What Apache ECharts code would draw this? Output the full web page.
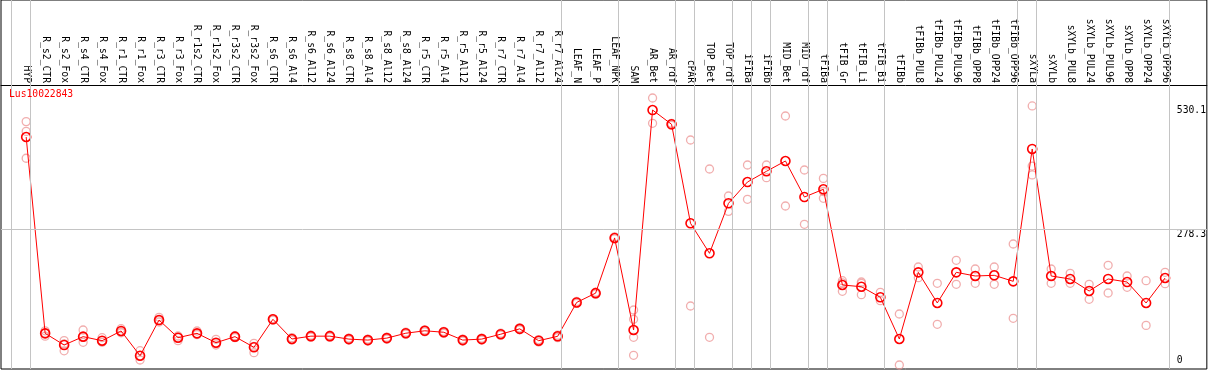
<!DOCTYPE html>
<html>
<head>
<meta charset="utf-8">
<script src="https://cdn.jsdelivr.net/npm/echarts@6/dist/echarts.min.js"></script>
<style>
html,body{margin:0;padding:0;background:#fff;}
#chart{width:1209px;height:370px;}
</style>
</head>
<body>
<div id="chart"></div>
<script>
const geneName = 'Lus10022843';
const categories = ['HYP','R_s2_CTR','R_s2_Fox','R_s4_CTR','R_s4_Fox','R_r1_CTR','R_r1_Fox','R_r3_CTR','R_r3_Fox','R_r1s2_CTR','R_r1s2_Fox','R_r3s2_CTR','R_r3s2_Fox','R_s6_CTR','R_s6_Al4','R_s6_Al12','R_s6_Al24','R_s8_CTR','R_s8_Al4','R_s8_Al12','R_s8_Al24','R_r5_CTR','R_r5_Al4','R_r5_Al12','R_r5_Al24','R_r7_CTR','R_r7_Al4','R_r7_Al12','R_r7_Al24','LEAF_N','LEAF_P','LEAF_NPK','SAM','AR_Bet','AR_rdf','cPAR','TOP_Bet','TOP_rdf','iFIBa','iFIBb','MID_Bet','MID_rdf','tFIBa','tFIB_Gr','tFIB_Li','tFIB_Bi','tFIBb','tFIBb_PUL8','tFIBb_PUL24','tFIBb_PUL96','tFIBb_OPP8','tFIBb_OPP24','tFIBb_OPP96','sXYLa','sXYLb','sXYLb_PUL8','sXYLb_PUL24','sXYLb_PUL96','sXYLb_OPP8','sXYLb_OPP24','sXYLb_OPP96'];
const meanValues = [466.5,64.8,40.9,58,49.7,69.6,19,92,55.9,64.8,45.6,58,36.2,93.5,53.2,59,59,53,51,55,65,70,67,51,53,63,74,49.7,58.7,128,147,260,71.6,521.7,492.5,289.9,228.5,330.8,374.4,396.3,417.4,343.7,359.5,163.7,160.2,138.5,53.2,189.6,126.9,189.6,182.1,183.5,171.2,442,182.1,176,151.4,176,169.8,126.9,178];
const rep1 = [498,70,50,71.6,55.9,74.3,29.3,97.6,59.3,69.6,52.6,60,44.4,95,56,61,61,55,53,57,67,72,69,53,55,65,76,52,61,130,149,262,112.5,546.3,494.5,460.4,401,345.8,409.2,409.2,509.5,399,381.8,172.5,169.8,148.7,104.3,200.5,167.1,214.2,196.4,200.5,247.6,530.1,196.4,187.6,165.1,204,182.1,172.5,189.6];
const rep2 = [478,65,43,57,49.7,68.1,19,92,56,64,45,58,38,93.5,53,59,59,53,51,55,65,70,67,51,53,63,74,49.7,58.7,126,145,258,93.5,494.5,490.5,120.7,56.7,314.4,339,383.3,325.3,287.9,355,168,167,131.6,0,178.6,83.3,165.1,167.1,165.1,95.5,407,167.1,167.1,134.4,147.3,159,81,166.3];
const rep3 = [423,59,29,46.4,46.4,66,10.2,88,49.7,62,40.9,56,25.2,92,51,57,57,51,49,53,63,68,65,49,51,61,72,47,56,null,null,null,56.7,null,null,null,null,null,null,null,null,null,341.1,150.8,143.8,null,null,null,null,null,null,null,null,389,null,null,null,null,null,null,null];
const rep4 = [null,null,null,null,null,null,null,null,null,null,null,null,null,null,null,null,null,null,null,null,null,null,null,null,null,null,null,null,null,null,null,null,19.8,null,null,null,null,null,null,null,null,null,null,null,null,null,null,null,null,null,null,null,null,null,null,null,null,null,null,null,null];
const yTickValues = [278.3, 530.1];
const yZeroTick = [0];
const groupEnds = [-1,0,28,31,34,35,37,38,39,41,42,45,52,53,60];

const FONT = 'DejaVu Sans Mono';
const sepOffset = 0.21;
const xMin = -1.326, xMax = 62.2;
const yMin = -8.18, yMax = 746.8;

const repData = [];
[rep1, rep2, rep3, rep4].forEach(arr => arr.forEach((v, i) => { if (v !== null) repData.push([i, v]); }));
const meanData = meanValues.map((v, i) => [i, v]);

const chart = echarts.init(document.getElementById('chart'), null, {renderer: 'canvas'});
chart.setOption({
  animation: false,
  backgroundColor: '#fff',
  title: {
    text: geneName, left: 9, top: 89, padding: 0,
    textStyle: {color: '#ff0000', fontFamily: FONT, fontSize: 9.7, fontWeight: 'normal'}
  },
  grid: {left: 1, right: 1, top: 0, bottom: 1, show: true, borderColor: '#000', borderWidth: 1, backgroundColor: 'transparent'},
  xAxis: {
    type: 'value', min: xMin, max: xMax, position: 'top', offset: -85,
    axisLine: {show: true, onZero: false, lineStyle: {color: '#000', width: 1}},
    axisTick: {show: false},
    splitLine: {show: false},
    axisLabel: {
      customValues: categories.map((_, i) => i),
      formatter: v => categories[Math.round(v)] || '',
      rotate: 90, margin: 2, color: '#000', fontFamily: FONT, fontSize: 9.7,
      showMinLabel: true, showMaxLabel: true, hideOverlap: false
    }
  },
  yAxis: [{
    type: 'value', min: yMin, max: yMax, position: 'right',
    axisLine: {show: false}, axisTick: {show: false}, splitLine: {show: false},
    axisLabel: {
      customValues: yTickValues, inside: true, margin: 30, align: 'left', verticalAlign: 'top',
      formatter: v => String(v), color: '#000', fontFamily: FONT, fontSize: 9.7
    }
  }, {
    type: 'value', min: yMin, max: yMax, position: 'right',
    axisLine: {show: false}, axisTick: {show: false}, splitLine: {show: false},
    axisLabel: {
      customValues: yZeroTick, inside: true, margin: 30, align: 'left', verticalAlign: 'bottom',
      formatter: v => String(v), color: '#000', fontFamily: FONT, fontSize: 9.7
    }
  }],
  series: [{
    type: 'scatter', name: 'replicates', z: 1,
    data: repData, symbol: 'circle', symbolSize: 8,
    itemStyle: {color: 'rgba(0,0,0,0)', borderColor: '#ee9a9a', borderWidth: 1.3},
    markLine: {
      silent: true, symbol: 'none', label: {show: false},
      lineStyle: {color: '#c4c4c4', type: 'solid', width: 1},
      data: groupEnds.map(i => ({xAxis: i + sepOffset})).concat(yTickValues.slice(0,1).map(v => ({yAxis: v})))
    }
  }, {
    type: 'line', name: 'mean', z: 3,
    data: meanData, symbol: 'circle', symbolSize: 9, showSymbol: true,
    lineStyle: {color: '#ff0000', width: 1},
    itemStyle: {color: 'rgba(0,0,0,0)', borderColor: '#ff0000', borderWidth: 1.6}
  }]
});
</script>
</body>
</html>
